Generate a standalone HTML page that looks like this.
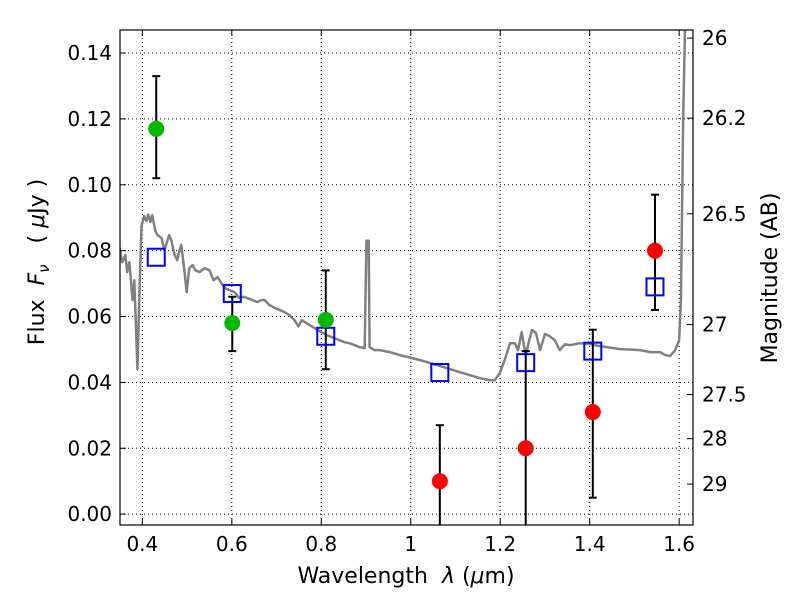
<!DOCTYPE html>
<html><head><meta charset="utf-8"><style>
body{margin:0;background:#fff}
svg text{font-family:"DejaVu Sans","Liberation Sans",sans-serif;fill:#000}
</style></head><body>
<svg id="chart" width="800" height="600" xmlns="http://www.w3.org/2000/svg">
<g id="grid"></g>
<g id="marks"></g>
<rect x="120" y="30" width="573" height="495" fill="none" stroke="#000" stroke-width="1.2"/>
<g id="axes"></g>
<text x="406" y="583" font-size="22" text-anchor="middle" xml:space="preserve">Wavelength  <tspan font-style="italic">λ</tspan> (<tspan font-style="italic">μ</tspan>m)</text>
<text transform="translate(44,262) rotate(-90)" font-size="22" text-anchor="middle" xml:space="preserve">Flux  <tspan font-style="italic">F</tspan><tspan font-style="italic" font-size="15" dy="5">ν</tspan><tspan dy="-5">   ( </tspan><tspan font-style="italic">μ</tspan>Jy )</text>
<text transform="translate(777,278) rotate(-90)" font-size="22" text-anchor="middle">Magnitude (AB)</text>
</svg>
<script>
const specLam=[0.349,0.355,0.362,0.366,0.371,0.378,0.382,0.389,0.393,0.398,0.404,0.409,0.413,0.418,0.422,0.429,0.434,0.443,0.449,0.456,0.460,0.465,0.472,0.478,0.483,0.487,0.494,0.499,0.505,0.512,0.519,0.528,0.539,0.550,0.559,0.568,0.577,0.586,0.595,0.606,0.617,0.626,0.635,0.646,0.657,0.666,0.673,0.684,0.696,0.707,0.718,0.729,0.740,0.749,0.756,0.774,0.792,0.807,0.819,0.830,0.841,0.852,0.863,0.875,0.886,0.897,0.901,0.906,0.908,0.919,0.931,0.953,0.975,1.020,1.065,1.110,1.154,1.177,1.188,1.199,1.210,1.222,1.233,1.240,1.248,1.257,1.266,1.271,1.280,1.289,1.300,1.311,1.322,1.333,1.345,1.356,1.378,1.401,1.423,1.468,1.513,1.535,1.557,1.569,1.580,1.591,1.600,1.604,1.609,1.613];
const specFlux=[0.081,0.0765,0.0787,0.0735,0.0765,0.065,0.071,0.044,0.065,0.0875,0.0905,0.089,0.091,0.0887,0.0908,0.086,0.0847,0.0838,0.080,0.083,0.0847,0.083,0.0787,0.0771,0.080,0.0817,0.074,0.0674,0.0747,0.0756,0.074,0.0735,0.0747,0.074,0.071,0.072,0.070,0.0686,0.068,0.0674,0.0656,0.066,0.0656,0.065,0.0644,0.065,0.065,0.0635,0.0626,0.062,0.0613,0.0604,0.0589,0.057,0.0589,0.0574,0.0559,0.0547,0.054,0.0534,0.0528,0.0522,0.0519,0.0513,0.0507,0.0504,0.083,0.083,0.0507,0.0498,0.0498,0.0492,0.0483,0.0468,0.045,0.0431,0.0413,0.0407,0.0407,0.0428,0.0468,0.0519,0.0519,0.0498,0.0553,0.0483,0.0534,0.0559,0.055,0.0498,0.0547,0.054,0.0528,0.0498,0.0516,0.0513,0.0519,0.0516,0.051,0.0501,0.0498,0.0492,0.0492,0.0483,0.048,0.0498,0.0528,0.065,0.1196,0.147];
const greenLam=[0.431,0.601,0.81];
const greenFlux=[0.117,0.058,0.059];
const greenLo=[0.102,0.0495,0.044];
const greenHi=[0.133,0.066,0.074];
const redLam=[1.065,1.257,1.407,1.546];
const redFlux=[0.010,0.020,0.031,0.080];
const redLo=[-0.01,-0.01,0.005,0.062];
const redHi=[0.027,0.0495,0.056,0.097];
const modelLam=[0.431,0.601,0.81,1.065,1.257,1.407,1.546];
const modelFlux=[0.078,0.067,0.054,0.043,0.046,0.0495,0.069];
const xTicks=[0.4,0.6,0.8,1.0,1.2,1.4,1.6];
const xTickLabels=["0.4","0.6","0.8","1","1.2","1.4","1.6"];
const yTicks=[0,0.02,0.04,0.06,0.08,0.10,0.12,0.14];
const yTickLabels=["0.00","0.02","0.04","0.06","0.08","0.10","0.12","0.14"];
const magTicks=[26,26.2,26.5,27,27.5,28,29];
const magTickLabels=["26","26.2","26.5","27","27.5","28","29"];

const L=120,R=693,T=30,B=525,X0=0.35,X1=1.631,Y0=-0.0033,Y1=0.147;
const sx=v=>L+(v-X0)/(X1-X0)*(R-L);
const sy=v=>B-(v-Y0)/(Y1-Y0)*(B-T);
const NS="http://www.w3.org/2000/svg";
function mk(tag,attrs,parent){const e=document.createElementNS(NS,tag);for(const k in attrs)e.setAttribute(k,attrs[k]);parent.appendChild(e);return e;}
const grid=document.getElementById('grid'),marks=document.getElementById('marks'),axes=document.getElementById('axes');
const clip=mk('clipPath',{id:'pc'},document.getElementById('chart'));mk('rect',{x:L,y:T,width:R-L,height:B-T},clip);
marks.setAttribute('clip-path','url(#pc)');
xTicks.forEach((v,i)=>{
 const g=mk('line',{x1:sx(v),x2:sx(v),y1:T,y2:B,stroke:'#000','stroke-width':1,'stroke-dasharray':'1,3'},grid);
 
 mk('line',{x1:sx(v),x2:sx(v),y1:B,y2:B-6,stroke:'#000'},axes);
 mk('line',{x1:sx(v),x2:sx(v),y1:T,y2:T+6,stroke:'#000'},axes);
 const t=mk('text',{x:sx(v),y:B+26,'font-size':20,'text-anchor':'middle'},axes);t.textContent=xTickLabels[i];
 
});
yTicks.forEach((v,i)=>{
 const g=mk('line',{x1:L,x2:R,y1:sy(v),y2:sy(v),stroke:'#000','stroke-width':1,'stroke-dasharray':'1,3'},grid);
 
 mk('line',{x1:L,x2:L+6,y1:sy(v),y2:sy(v),stroke:'#000'},axes);
 const t=mk('text',{x:L-8,y:sy(v)+7,'font-size':20,'text-anchor':'end'},axes);t.textContent=yTickLabels[i];
 
});
magTicks.forEach((m,i)=>{
 const y=sy(Math.pow(10,(23.9-m)/2.5));
 mk('line',{x1:R,x2:R-6,y1:y,y2:y,stroke:'#000'},axes);
 const t=mk('text',{x:R+9,y:y+7,'font-size':20},axes);t.textContent=magTickLabels[i];
 
});
const sp=mk('polyline',{points:specLam.map((l,i)=>sx(l)+','+sy(specFlux[i])).join(' '),fill:'none',stroke:'#808080','stroke-width':2.5,'stroke-linejoin':'round'},marks);

function errbar(l,lo,hi){
 const g=mk('g',{stroke:'#000','stroke-width':2},marks);
 
 mk('line',{x1:sx(l),x2:sx(l),y1:sy(lo),y2:sy(hi)},g);
 mk('line',{x1:sx(l)-4,x2:sx(l)+4,y1:sy(lo),y2:sy(lo)},g);
 mk('line',{x1:sx(l)-4,x2:sx(l)+4,y1:sy(hi),y2:sy(hi)},g);
}
greenLam.forEach((l,i)=>errbar(l,greenLo[i],greenHi[i]));
redLam.forEach((l,i)=>errbar(l,redLo[i],redHi[i]));
modelLam.forEach((l,i)=>{
 const r=mk('rect',{x:sx(l)-8.5,y:sy(modelFlux[i])-8.5,width:17,height:17,fill:'none',stroke:'#0000ff','stroke-width':2},marks);
 
});
greenLam.forEach((l,i)=>{
 const c=mk('circle',{cx:sx(l),cy:sy(greenFlux[i]),r:8,fill:'#00bb00'},marks);
 
});
redLam.forEach((l,i)=>{
 const c=mk('circle',{cx:sx(l),cy:sy(redFlux[i]),r:8,fill:'#ff0000'},marks);
 
});
</script>
</body></html>
